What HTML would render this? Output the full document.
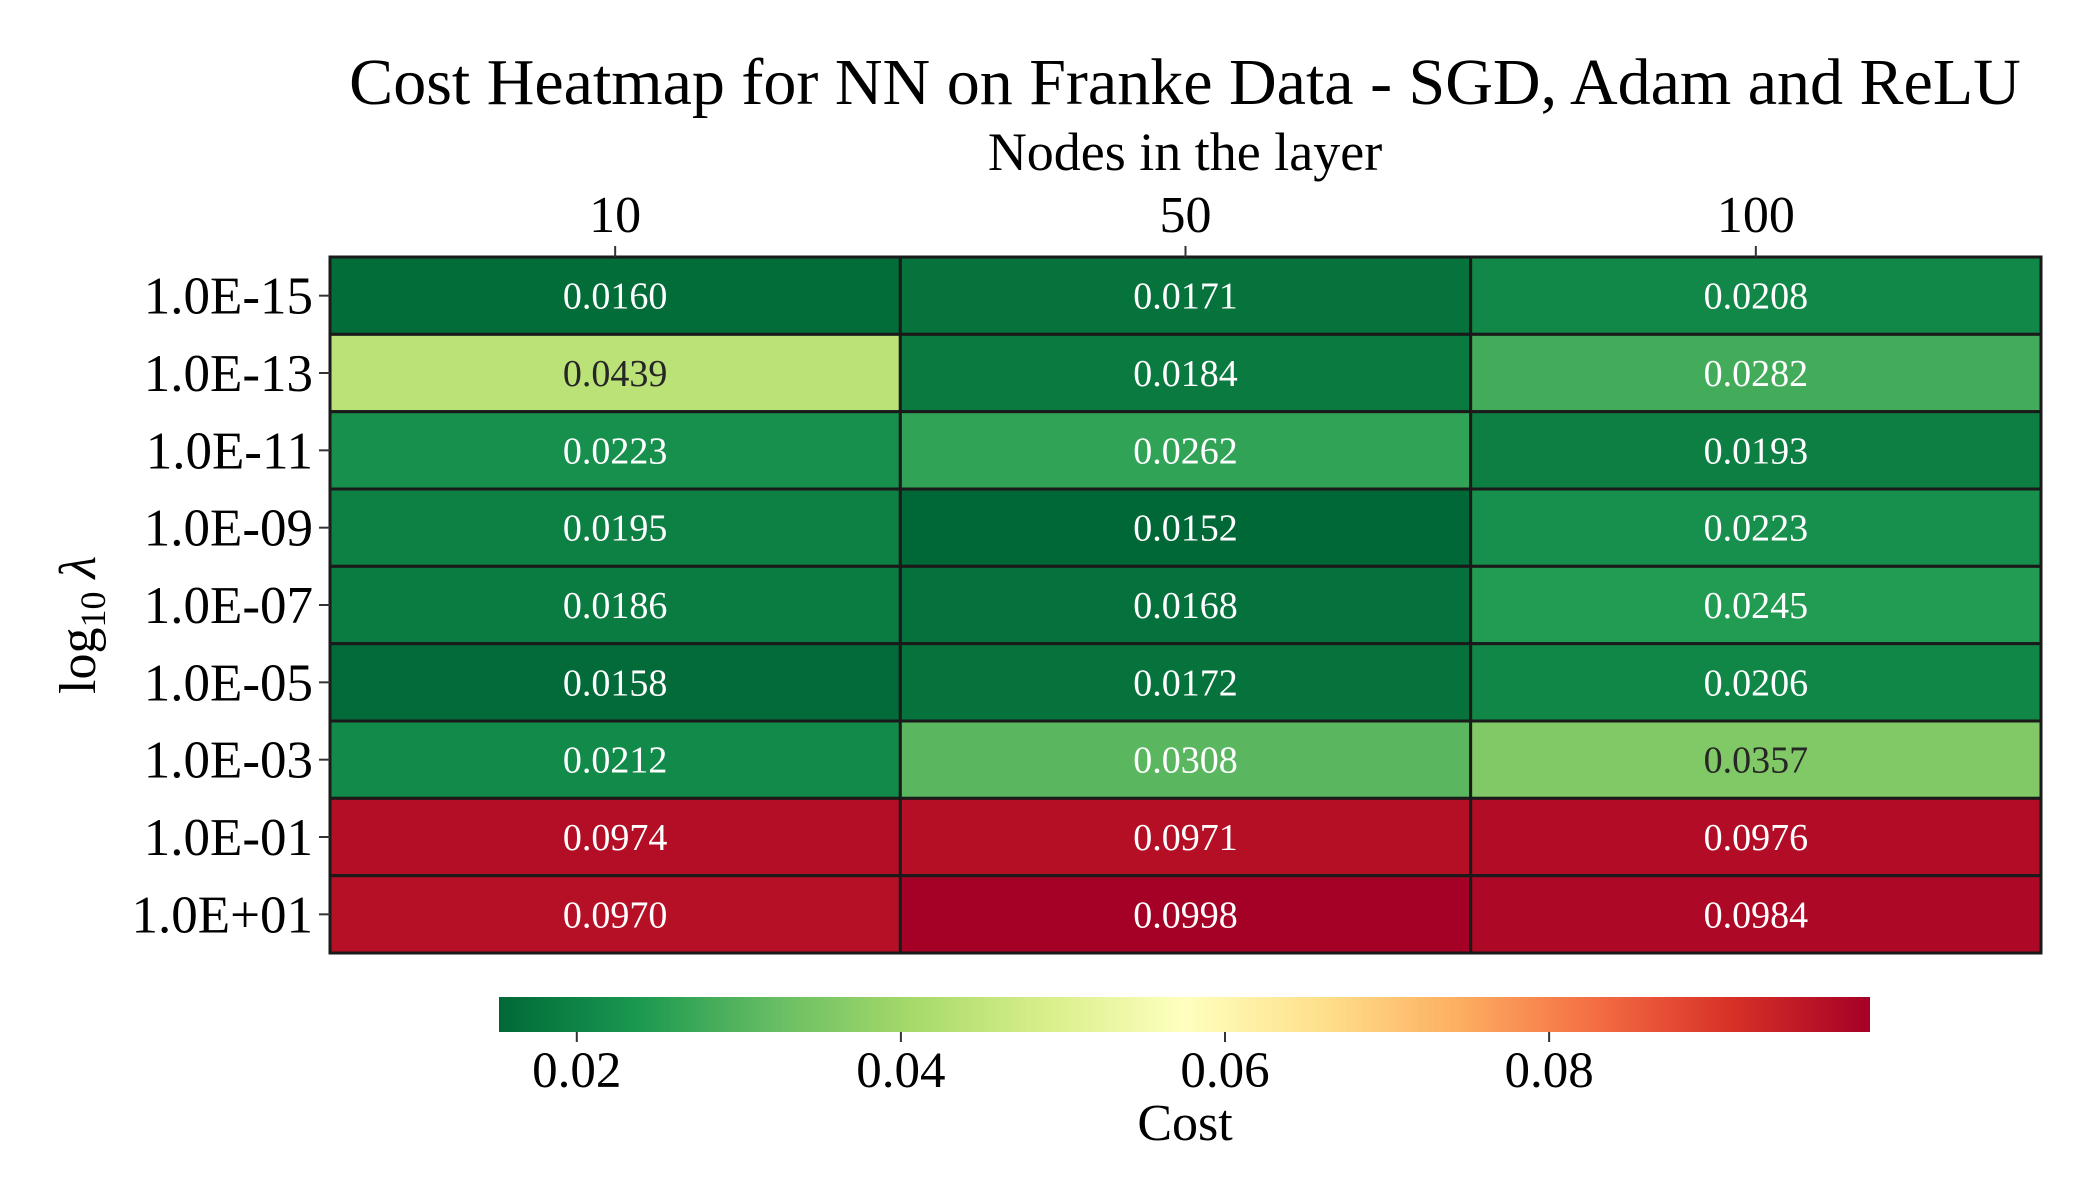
<!DOCTYPE html>
<html><head><meta charset="utf-8"><style>
html,body{margin:0;padding:0;background:#fff;}
svg{display:block;font-family:"Liberation Serif",serif;}
</style></head><body>
<svg id="chart" width="2100" height="1200" viewBox="0 0 2100 1200" xmlns="http://www.w3.org/2000/svg">
<defs>
<linearGradient id="cbgrad" x1="0" x2="1" y1="0" y2="0">
<stop offset="0" stop-color="#006837"/><stop offset="0.1" stop-color="#1a9850"/><stop offset="0.2" stop-color="#66bd63"/><stop offset="0.3" stop-color="#a6d96a"/><stop offset="0.4" stop-color="#d9ef8b"/><stop offset="0.5" stop-color="#ffffbf"/><stop offset="0.6" stop-color="#fee08b"/><stop offset="0.7" stop-color="#fdae61"/><stop offset="0.8" stop-color="#f46d43"/><stop offset="0.9" stop-color="#d73027"/><stop offset="1" stop-color="#a50026"/>
</linearGradient>
</defs>
<text x="1185" y="104" font-size="66" text-anchor="middle" fill="#000">Cost Heatmap for NN on Franke Data - SGD, Adam and ReLU</text>
<text x="1185" y="170" font-size="54" text-anchor="middle" fill="#000">Nodes in the layer</text>
<text transform="translate(95,625) rotate(-90)" font-size="52" text-anchor="middle" fill="#000">log<tspan font-size="36" dy="10">10</tspan><tspan dy="-10" font-style="italic"> λ</tspan></text>
<g id="cells"></g>
<g id="axes"></g>
<rect x="499" y="997" width="1371" height="35" fill="url(#cbgrad)"/>
<g id="cbticks"></g>
<text x="1185" y="1140" font-size="52" text-anchor="middle" fill="#000">Cost</text>
</svg>
<script>
const columns = ["10","50","100"];
const rows = ["1.0E-15","1.0E-13","1.0E-11","1.0E-09","1.0E-07","1.0E-05","1.0E-03","1.0E-01","1.0E+01"];
const values = [
 [0.0160,0.0171,0.0208],
 [0.0439,0.0184,0.0282],
 [0.0223,0.0262,0.0193],
 [0.0195,0.0152,0.0223],
 [0.0186,0.0168,0.0245],
 [0.0158,0.0172,0.0206],
 [0.0212,0.0308,0.0357],
 [0.0974,0.0971,0.0976],
 [0.0970,0.0998,0.0984]
];
const cbTicks = [0.02,0.04,0.06,0.08];
const cbTickLabels = ["0.02","0.04","0.06","0.08"];

const NS="http://www.w3.org/2000/svg";
const X0=330,X1=2041,Y0=257,Y1=953;
const CB0=499,CB1=1870;
let vmin=Infinity,vmax=-Infinity;
values.forEach(r=>r.forEach(v=>{vmin=Math.min(vmin,v);vmax=Math.max(vmax,v);}));
const cw=(X1-X0)/columns.length, rh=(Y1-Y0)/rows.length;
const xc=i=>X0+cw*(i+0.5), yc=j=>Y0+rh*(j+0.5);
const cbx=v=>CB0+(v-vmin)/(vmax-vmin)*(CB1-CB0);
const stops=["#006837","#1a9850","#66bd63","#a6d96a","#d9ef8b","#ffffbf","#fee08b","#fdae61","#f46d43","#d73027","#a50026"].map(h=>[1,3,5].map(k=>parseInt(h.substr(k,2),16)));
function cmap(v){let t=(v-vmin)/(vmax-vmin);t=Math.max(0,Math.min(1,t))*10;let i=Math.min(9,Math.floor(t)),f=t-i;
 return stops[i].map((c,k)=>Math.round(c+(stops[i+1][k]-c)*f));}
function lum(c){const l=c.map(x=>{x/=255;return x<=0.03928?x/12.92:Math.pow((x+0.055)/1.055,2.4);});return 0.2126*l[0]+0.7152*l[1]+0.0722*l[2];}
function mk(tag,attrs,parent){const e=document.createElementNS(NS,tag);for(const k in attrs)e.setAttribute(k,attrs[k]);parent.appendChild(e);return e;}
const gc=document.getElementById('cells'),ga=document.getElementById('axes'),gt=document.getElementById('cbticks');
values.forEach((r,j)=>r.forEach((v,i)=>{
 const c=cmap(v);
 const rect=mk('rect',{x:X0+cw*i,y:Y0+rh*j,width:cw,height:rh,fill:`rgb(${c})`,stroke:'#1a1a1a','stroke-width':3},gc);
 
 
 const t=mk('text',{x:xc(i),y:yc(j)+13,'font-size':38,'text-anchor':'middle',fill:lum(c)>0.408?'#262626':'#ffffff'},gc);
 
 
 t.textContent=v.toFixed(4);
}));
mk('rect',{x:X0,y:Y0,width:X1-X0,height:Y1-Y0,fill:'none',stroke:'#1a1a1a','stroke-width':3},gc);
columns.forEach((c,i)=>{
 mk('line',{x1:xc(i),x2:xc(i),y1:Y0,y2:Y0-11,stroke:'#333','stroke-width':2},ga);
 const t=mk('text',{x:xc(i),y:232,'font-size':52,'text-anchor':'middle',fill:'#000'},ga);
 
 
 t.textContent=c;
});
rows.forEach((r,j)=>{
 mk('line',{x1:X0,x2:X0-11,y1:yc(j),y2:yc(j),stroke:'#333','stroke-width':2},ga);
 const t=mk('text',{x:313,y:yc(j)+18,'font-size':53,'text-anchor':'end',fill:'#000'},ga);
 
 
 t.textContent=r;
});
cbTicks.forEach((v,i)=>{
 const x=cbx(v);
 mk('line',{x1:x,x2:x,y1:1032,y2:1042,stroke:'#333','stroke-width':2},gt);
 const t=mk('text',{x:x,y:1087,'font-size':51,'text-anchor':'middle',fill:'#000'},gt);
 
 
 t.textContent=cbTickLabels[i];
});
</script>
</body></html>
